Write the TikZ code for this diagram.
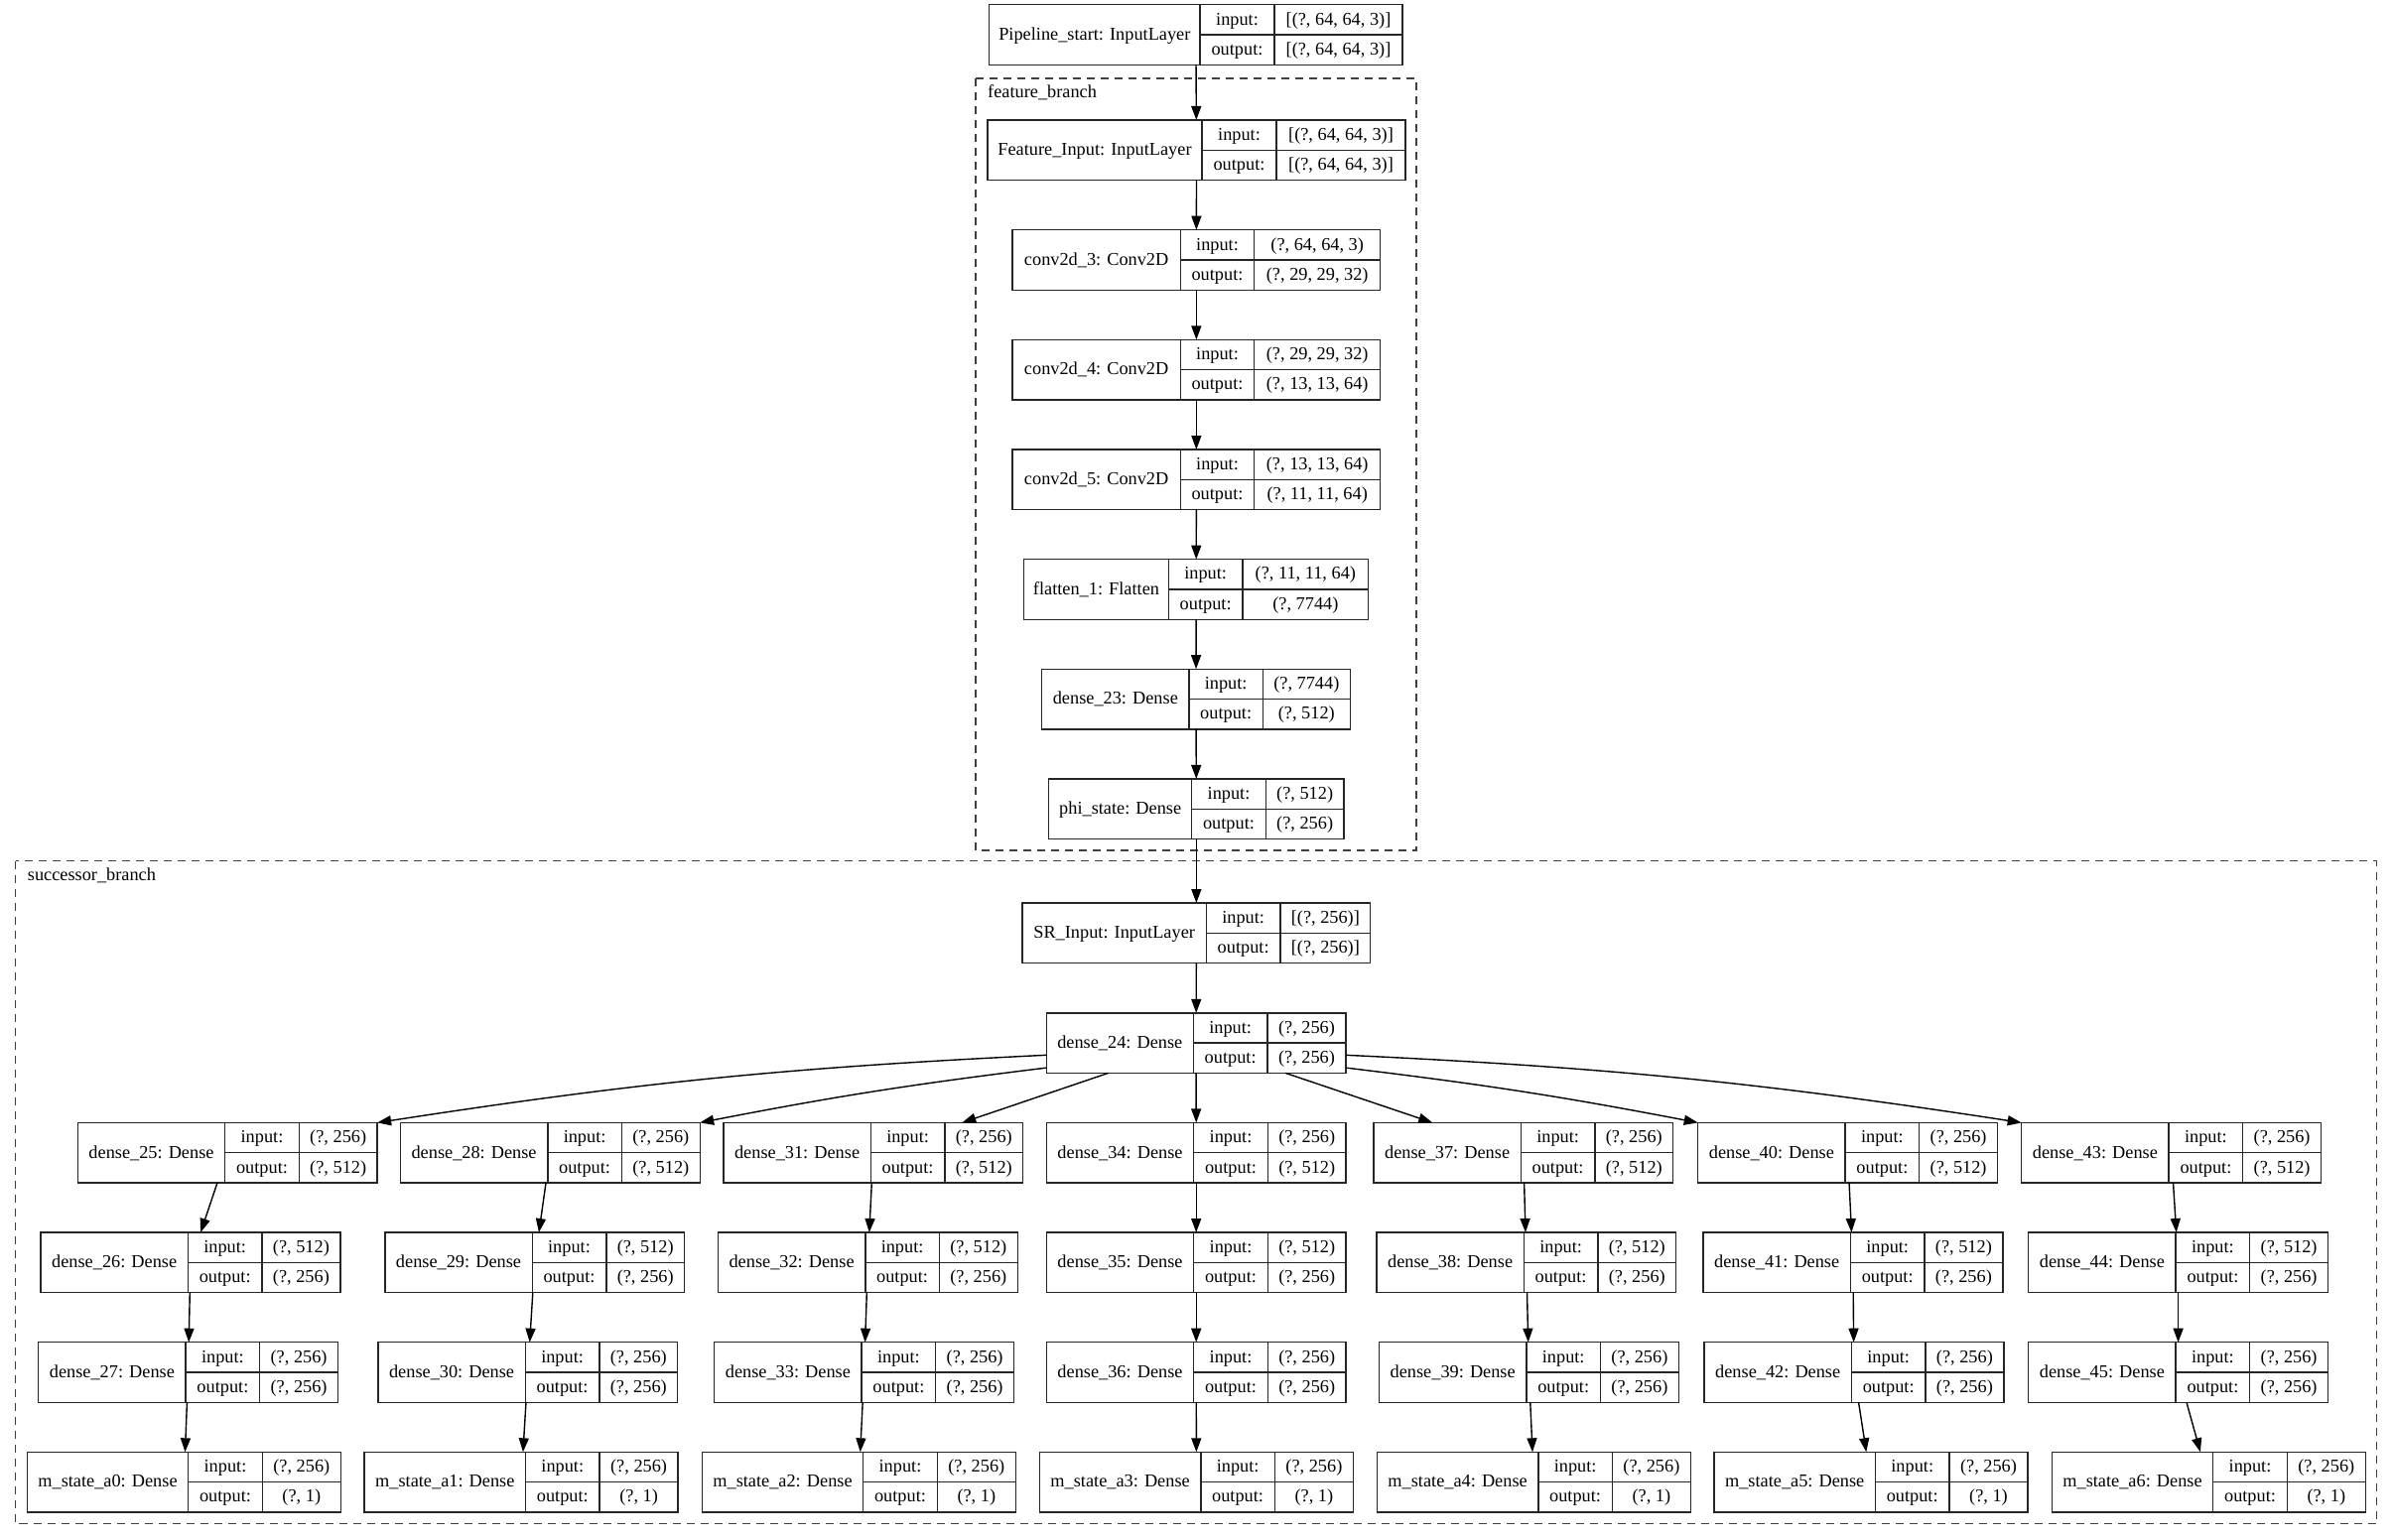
\documentclass[tikz,border=0pt]{standalone}
\usepackage{fontspec}
\setmainfont{Liberation Serif}
\usetikzlibrary{arrows.meta}

\tikzset{
  box/.style={draw=black!85, line width=1.4pt, inner sep=0pt, outer sep=0pt, rectangle},
  rule/.style={draw=black!85, line width=1.4pt},
  txt/.style={anchor=base, inner sep=0pt, font=\fontsize{18.3}{22}\selectfont},
  arr/.style={draw=black, line width=1.4pt, -{Triangle[length=14pt,width=10pt]}},
  cluster/.style={draw=black!75, line width=1.4pt, dash pattern=on 8pt off 6pt},
  clusterlabel/.style={anchor=base west, inner sep=0pt, font=\fontsize{18.3}{22}\selectfont},
}

% record node: name, x0, x1, divider 1, divider 2, top, label, input shape, output shape
\newcommand\layerbox[9]{%
  \node[box, minimum width={#3-#2}, minimum height=60.6] (#1) at ({(#2+#3)/2},{#6+30.3}) {};
  \draw[rule] (#4,#6) -- (#4,#6+60.6) (#5,#6) -- (#5,#6+60.6) (#4,#6+30.3) -- (#3,#6+30.3);
  \node[txt] at ({(#2+#4)/2},{#6+35.6}) {#7};
  \node[txt] at ({(#4+#5)/2},{#6+20.3}) {input:};
  \node[txt] at ({(#5+#3)/2},{#6+20.3}) {#8};
  \node[txt] at ({(#4+#5)/2},{#6+50.6}) {output:};
  \node[txt] at ({(#5+#3)/2},{#6+50.6}) {#9};
}
% Dense layer: name, left x, top, number, input, output
\newcommand\denselayer[6]{\layerbox{#1}{#2}{#2+301.8}{#2+148.4}{#2+223}{#3}{dense\_#4: Dense}{#5}{#6}}
% m_state output layer: name, left x, top, index
\newcommand\mstatelayer[4]{\layerbox{#1}{#2}{#2+316}{#2+162.4}{#2+237}{#3}{m\_state\_a#4: Dense}{(?, 256)}{(?, 1)}}

\begin{document}
\begin{tikzpicture}[x=1pt, y=-1pt]
\useasboundingbox (0,0) rectangle (2411,1552);

% clusters
\draw[cluster] (983,79) rectangle (1427,857);
\node[clusterlabel] (fbl) at (995,98.3) {feature\_branch};
\draw[cluster] (15.7,867.5) rectangle (2394.3,1535.7);
\node[clusterlabel] (sbl) at (27.7,887.3) {successor\_branch};

% feature extractor chain
\layerbox{pipe}{996.7}{1413}{1209}{1284}{4.8}{Pipeline\_start: InputLayer}{[(?, 64, 64, 3)]}{[(?, 64, 64, 3)]}
\layerbox{finp}{995}{1416}{1211}{1286}{120.9}{Feature\_Input: InputLayer}{[(?, 64, 64, 3)]}{[(?, 64, 64, 3)]}
\layerbox{c3}{1020}{1390.7}{1189.3}{1263.7}{231.7}{conv2d\_3: Conv2D}{(?, 64, 64, 3)}{(?, 29, 29, 32)}
\layerbox{c4}{1020}{1390.7}{1189.3}{1263.7}{342.3}{conv2d\_4: Conv2D}{(?, 29, 29, 32)}{(?, 13, 13, 64)}
\layerbox{c5}{1020}{1390.7}{1189.3}{1263.7}{453}{conv2d\_5: Conv2D}{(?, 13, 13, 64)}{(?, 11, 11, 64)}
\layerbox{fl}{1031.7}{1378.7}{1177.3}{1252}{563.6}{flatten\_1: Flatten}{(?, 11, 11, 64)}{(?, 7744)}
\layerbox{d23}{1049.7}{1360.3}{1198}{1272.3}{674.2}{dense\_23: Dense}{(?, 7744)}{(?, 512)}
\layerbox{phi}{1056.7}{1354}{1200.7}{1275.3}{784.9}{phi\_state: Dense}{(?, 512)}{(?, 256)}

% successor head
\layerbox{sr}{1030}{1380.7}{1215.3}{1290}{910}{SR\_Input: InputLayer}{[(?, 256)]}{[(?, 256)]}
\layerbox{d24}{1054.3}{1356}{1202.3}{1277}{1020.8}{dense\_24: Dense}{(?, 256)}{(?, 256)}

% seven parallel branches
\denselayer{d25}{78.3}{1131.4}{25}{(?, 256)}{(?, 512)}
\denselayer{d26}{41}{1242}{26}{(?, 512)}{(?, 256)}
\denselayer{d27}{38.7}{1352.7}{27}{(?, 256)}{(?, 256)}
\mstatelayer{m0}{27.3}{1463.3}{0}

\denselayer{d28}{403.4}{1131.4}{28}{(?, 256)}{(?, 512)}
\denselayer{d29}{387.8}{1242}{29}{(?, 512)}{(?, 256)}
\denselayer{d30}{380.9}{1352.7}{30}{(?, 256)}{(?, 256)}
\mstatelayer{m1}{367.1}{1463.3}{1}

\denselayer{d31}{728.9}{1131.4}{31}{(?, 256)}{(?, 512)}
\denselayer{d32}{723.4}{1242}{32}{(?, 512)}{(?, 256)}
\denselayer{d33}{719.7}{1352.7}{33}{(?, 256)}{(?, 256)}
\mstatelayer{m2}{707.3}{1463.3}{2}

\denselayer{d34}{1054.3}{1131.4}{34}{(?, 256)}{(?, 512)}
\denselayer{d35}{1054.3}{1242}{35}{(?, 512)}{(?, 256)}
\denselayer{d36}{1054.3}{1352.7}{36}{(?, 256)}{(?, 256)}
\mstatelayer{m3}{1047.4}{1463.3}{3}

\denselayer{d37}{1383.9}{1131.4}{37}{(?, 256)}{(?, 512)}
\denselayer{d38}{1386.9}{1242}{38}{(?, 512)}{(?, 256)}
\denselayer{d39}{1389.5}{1352.7}{39}{(?, 256)}{(?, 256)}
\mstatelayer{m4}{1387.4}{1463.3}{4}

\denselayer{d40}{1710.7}{1131.4}{40}{(?, 256)}{(?, 512)}
\denselayer{d41}{1716}{1242}{41}{(?, 512)}{(?, 256)}
\denselayer{d42}{1717}{1352.7}{42}{(?, 256)}{(?, 256)}
\mstatelayer{m5}{1727}{1463.3}{5}

\denselayer{d43}{2036.7}{1131.4}{43}{(?, 256)}{(?, 512)}
\denselayer{d44}{2043.7}{1242}{44}{(?, 512)}{(?, 256)}
\denselayer{d45}{2043.7}{1352.7}{45}{(?, 256)}{(?, 256)}
\mstatelayer{m6}{2067.3}{1463.3}{6}

% connections along the trunk
\draw[arr] (pipe) -- (finp);
\draw[arr] (finp) -- (c3);
\draw[arr] (c3) -- (c4);
\draw[arr] (c4) -- (c5);
\draw[arr] (c5) -- (fl);
\draw[arr] (fl) -- (d23);
\draw[arr] (d23) -- (phi);
\draw[arr] (phi) -- (sr);
\draw[arr] (sr) -- (d24);

% fan-out to the branches
\draw[arr] ([yshift=-12.2pt]d24.west) to[bend right=3] (d25.north east);
\draw[arr] ([yshift=-25pt]d24.west) to[bend right=2] (d28.north east);
\draw[arr] ([xshift=-88.5pt]d24.south) -- ([xshift=89.5pt]d31.north);
\draw[arr] (d24) -- (d34);
\draw[arr] ([xshift=90pt]d24.south) -- ([xshift=-91.6pt]d37.north);
\draw[arr] ([yshift=-25pt]d24.east) to[bend left=2] (d40.north west);
\draw[arr] ([yshift=-12.2pt]d24.east) to[bend left=3] (d43.north west);

% branch chains
\foreach \a/\b/\c/\d in {d25/d26/d27/m0, d28/d29/d30/m1, d31/d32/d33/m2,
                         d34/d35/d36/m3, d37/d38/d39/m4, d40/d41/d42/m5,
                         d43/d44/d45/m6}{
  \draw[arr] (\a) -- (\b);
  \draw[arr] (\b) -- (\c);
  \draw[arr] (\c) -- (\d);
}
\end{tikzpicture}
\end{document}
